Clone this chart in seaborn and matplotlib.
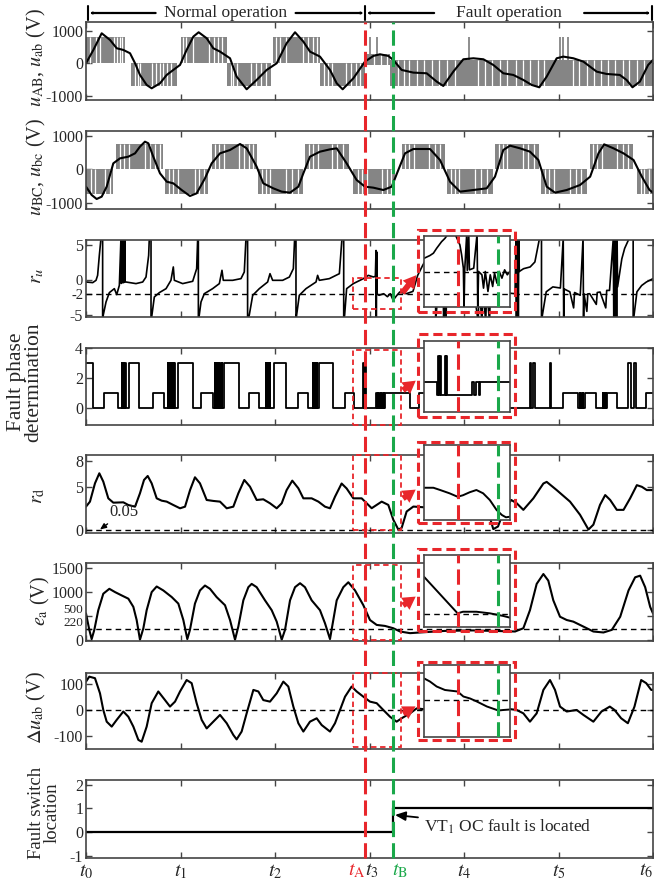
import numpy as np
import matplotlib
matplotlib.use("Agg")
import matplotlib.pyplot as plt
import seaborn as sns
from matplotlib.patches import Rectangle, FancyArrowPatch
from matplotlib.lines import Line2D

# ---------------- time markers (t_k grid units) ----------------
T_TICKS = [0, 1, 2, 3, 4, 5, 6]
T_LABELS = [r"$t_0$", r"$t_1$", r"$t_2$", r"$t_3$", r"$t_4$", r"$t_5$", r"$t_6$"]
T_A = 2.955          # fault occurs
T_B = 3.25           # fault located
ZOOM_T = (2.83, 3.33)   # window marked on the main traces
INSET_T = (2.70, 3.34)  # span shown in the magnified views

# ---------------- u_ab (filtered line voltage) ----------------
uab_t = [0.00, 0.078, 0.166, 0.254, 0.325, 0.395, 0.466, 0.519, 0.571, 0.642, 0.695, 0.783, 0.854, 0.924,
         0.995, 1.065, 1.136, 1.192, 1.277, 1.347, 1.418, 1.524, 1.594, 1.700, 1.806, 1.912, 2.018, 2.123,
         2.212, 2.300, 2.370, 2.476, 2.582, 2.653, 2.716, 2.829, 2.952, 3.041, 3.111, 3.199, 3.252, 3.340,
         3.464, 3.605, 3.711, 3.781, 3.887, 3.993, 4.099, 4.205, 4.310, 4.416, 4.522, 4.628, 4.716, 4.797,
         4.875, 4.981, 5.051, 5.157, 5.263, 5.404, 5.508, 5.649, 5.720, 5.783, 5.861, 5.949, 6.000]
uab_v = [0, 410, 923, 718, 462, 410, 308, 0, -359, -667, -770, -616, -359, -205,
         -51, 410, 821, 954, 770, 462, 359, 154, -410, -800, -513, -205, 0, 616,
         954, 667, 359, 205, -205, -616, -800, -462, 51, 226, 277, 226, 103, -205,
         -287, -308, -564, -698, -257, 123, 154, 123, -51, -308, -359, -513, -667, -739,
         -410, 154, 205, 154, 51, -257, -328, -359, -513, -739, -564, -51, 103]

# PWM voltage u_AB: switching bands
uAB_band_start = [0.00, 0.48, 1.00, 1.49, 1.98, 2.48, 2.95, 3.22]
uAB_band_end = [0.41, 0.96, 1.49, 1.96, 2.48, 2.95, 3.22, 6.00]
uAB_band_lo = [0, -700, 0, -700, 0, -700, -60, -700]
uAB_band_hi = [820, 0, 820, 0, 820, 0, 280, 90]
uAB_pulse_t = [3.00, 3.08, 4.05, 5.02, 5.05, 5.10]
uAB_pulse_top = 820
uAB_gap_t = [0.04, 0.11, 0.15, 0.30, 0.33, 0.36, 0.385, 0.52, 0.55, 0.57, 0.70, 0.74, 0.78, 0.82, 0.86, 0.90,
             1.03, 1.06, 1.13, 1.30, 1.35, 1.40, 1.44, 1.53, 1.56, 1.60, 1.75, 1.80, 1.85, 1.90, 2.01, 2.05,
             2.12, 2.30, 2.35, 2.40, 2.44, 2.52, 2.56, 2.60, 2.75, 2.80, 2.86, 2.90, 3.05, 3.12, 3.18, 3.30,
             3.36, 3.42, 3.50, 3.58, 3.66, 3.74, 3.82, 3.90, 4.15, 4.22, 4.30, 4.38, 4.45, 4.55, 4.62, 4.70,
             4.78, 4.85, 5.15, 5.22, 5.30, 5.38, 5.45, 5.52, 5.60, 5.68, 5.75, 5.83, 5.90]

# ---------------- u_bc ----------------
ubc_t = [0.00, 0.06, 0.113, 0.166, 0.219, 0.289, 0.360, 0.448, 0.519, 0.571, 0.624, 0.660, 0.712, 0.783,
         0.854, 0.924, 1.012, 1.100, 1.171, 1.259, 1.330, 1.418, 1.524, 1.630, 1.700, 1.806, 1.876, 1.982,
         2.071, 2.159, 2.247, 2.300, 2.370, 2.476, 2.582, 2.653, 2.758, 2.864, 2.952, 3.041, 3.146, 3.235,
         3.305, 3.376, 3.464, 3.640, 3.746, 3.852, 3.958, 4.099, 4.240, 4.328, 4.416, 4.487, 4.593, 4.698,
         4.787, 4.875, 4.963, 5.087, 5.228, 5.335, 5.423, 5.483, 5.582, 5.688, 5.794, 5.882, 5.963, 6.000]
ubc_v = [-520, -770, -890, -820, -520, 180, 330, 380, 480, 680, 830, 780, 380, -120,
         -370, -420, -620, -800, -720, -270, 180, 480, 580, 760, 630, 80, -420, -570,
         -670, -700, -520, -120, 380, 530, 600, 630, 180, -320, -520, -550, -620, -520,
         -20, 480, 610, 610, 280, -370, -670, -620, -570, -220, 580, 710, 630, 530,
         280, -520, -700, -620, -470, -220, 480, 750, 630, 480, 280, -220, -620, -700]

uBC_band_start = [0.00, 0.32, 0.84, 1.33, 1.82, 2.32, 2.83, 3.34, 3.82, 4.33, 4.82, 5.33, 5.83]
uBC_band_end = [0.29, 0.82, 1.29, 1.81, 2.30, 2.78, 3.27, 3.80, 4.31, 4.79, 5.30, 5.79, 6.00]
uBC_band_level = [-750, 750, -750, 750, -750, 750, -750, 750, -750, 750, -750, 750, -750]
uBC_gap_t = [0.05, 0.10, 0.20, 0.25, 0.36, 0.40, 0.45, 0.62, 0.68, 0.73, 0.78, 0.88, 0.92, 0.97, 1.15, 1.20,
             1.25, 1.37, 1.41, 1.46, 1.62, 1.67, 1.72, 1.77, 1.86, 1.90, 1.95, 2.12, 2.18, 2.24, 2.36, 2.40,
             2.45, 2.60, 2.66, 2.72, 2.88, 2.92, 2.97, 3.13, 3.18, 3.23, 3.38, 3.42, 3.47, 3.63, 3.69, 3.75,
             3.86, 3.90, 3.95, 4.12, 4.18, 4.24, 4.37, 4.41, 4.46, 4.62, 4.68, 4.74, 4.86, 4.90, 4.95, 5.12,
             5.18, 5.24, 5.37, 5.41, 5.46, 5.62, 5.68, 5.74, 5.87, 5.91, 5.96]

# ---------------- r_u ----------------
ru_t = [0.000, 0.071, 0.106, 0.123, 0.141, 0.159, 0.176, 0.176,
        0.183, 0.212, 0.247, 0.300, 0.325, 0.353,
        0.370, 0.374, 0.378, 0.382, 0.386, 0.390, 0.394, 0.398, 0.402, 0.406, 0.410, 0.414,
        0.423, 0.529, 0.600, 0.635, 0.663, 0.670, 0.688, 0.688,
        0.698, 0.723, 0.776, 0.847, 0.899, 0.924, 0.935, 1.023, 1.129, 1.171, 1.182, 1.189, 1.189,
        1.199, 1.217, 1.252, 1.340, 1.411, 1.439, 1.453, 1.552, 1.640, 1.675, 1.693, 1.710, 1.710,
        1.728, 1.764, 1.834, 1.922, 1.947, 1.975, 2.081, 2.152, 2.194, 2.208, 2.222, 2.222,
        2.229, 2.257, 2.328, 2.434, 2.451, 2.469, 2.575, 2.681, 2.709, 2.727, 2.727,
        2.737, 2.758, 2.829, 2.935, 2.988, 3.041, 3.062, 3.069, 3.072, 3.076, 3.080,
        3.100, 3.150, 3.190, 3.220, 3.250, 3.290, 3.320, 3.390, 3.460, 3.510, 3.560, 3.620, 3.660, 3.700, 3.700,
        3.720, 3.780, 3.785, 3.790, 3.810, 3.815, 3.950, 4.100, 4.150, 4.160, 4.190, 4.200, 4.230, 4.240,
        4.270, 4.280, 4.400, 4.540,
        4.550, 4.555, 4.560, 4.565, 4.570, 4.575, 4.580, 4.585,
        4.630, 4.700, 4.750, 4.800, 4.820, 4.820, 4.830, 4.870, 4.940, 5.020,
        5.050, 5.055, 5.060, 5.120, 5.160, 5.170, 5.230, 5.260, 5.265, 5.270, 5.300, 5.310, 5.330, 5.400,
        5.410, 5.440, 5.500, 5.510, 5.540,
        5.580, 5.585, 5.590, 5.595, 5.600, 5.605, 5.610, 5.615, 5.620, 5.625,
        5.670, 5.700, 5.750, 5.790, 5.790, 5.800, 5.830, 5.880, 5.930, 6.000]
ru_v = [-0.30, -0.39, -0.06, 0.65, 3.5, 6, 6, -6,
        -5.0, -3.15, -1.82, -1.25, -2.1, -0.77,
        6, -0.5, 6, -0.4, 6, -0.3, 6, -0.4, 6, -0.3, 6, -0.3,
        -0.30, -0.53, -0.30, 0.41, 3.5, 6, 6, -6,
        -5.0, -2.44, -1.82, -1.25, -0.06, 1.85, -0.06, -0.53, -0.2, 1.6, 6, 6, -6,
        -5.0, -3.15, -1.97, -1.25, -0.53, 1.37, -0.06, -0.06, 0.18, 1.13, 6, 6, -6,
        -5.0, -2.2, -1.25, -0.3, 0.89, -0.06, -0.06, 0.41, 1.6, 6, 6, -6,
        -5.0, -2.2, -1.25, -0.3, 0.65, -0.06, 0.18, 0.89, 6, 6, -6,
        -5.0, -1.25, -0.53, 0.18, 0.65, 0.42, 0.5, 4.2, -5.3, 4.0, -2.0,
        -2.2, -1.97, -2.4, -1.97, -2.9, -2.2, -1.73, -1.97, -1.64, 0.65, 2.0, 3.5, 6, 6, -6,
        -2.5, -2.0, -6, -2.0, -6, -2.0, -1.5, -1.0, -6, -1.0, -6, -1.2, -6, -1.2,
        -6, -1.5, -1.8, -1.97,
        6, -6, 6, -6, 6, -6, 6, 1.2,
        1.6, 1.85, 2.56, 6, 6, -6, -5.0, -1.7, -1.0, -1.16,
        6, -6, -1.3, -1.7, -4.0, -1.8, -2.2, 6, -6, -2.0, -4.5, -2.0, -1.97, -3.5,
        -1.8, -1.73, -4.0, -1.5, -1.5,
        6, -6, 6, -6, 6, -6, 6, -6, 6, -1.0,
        3.0, 4.5, 6, 6, -6, -5.0, -1.7, -0.8, -0.3, 0.18]
RU_THRESHOLD = -2

# ---------------- fault phase determination (step signal) ----------------
fp_t = [0.000, 0.078, 0.194, 0.335, 0.380, 0.386, 0.400, 0.406, 0.415, 0.421, 0.460, 0.564, 0.705, 0.830,
        0.865, 0.869, 0.875, 0.879, 0.885, 0.889, 0.895, 0.899, 0.905, 0.909, 0.915, 0.919, 0.925, 0.929,
        0.935, 0.939, 0.970, 1.130, 1.220, 1.340, 1.365, 1.369, 1.375, 1.379, 1.385, 1.389, 1.395, 1.399,
        1.405, 1.409, 1.420, 1.424, 1.435, 1.439, 1.465, 1.620, 1.730, 1.830, 1.905, 1.910, 1.925, 1.930,
        1.945, 1.950, 1.990, 2.120, 2.240, 2.350, 2.400, 2.405, 2.420, 2.425, 2.440, 2.445, 2.470, 2.610,
        2.740, 2.840, 2.935, 2.945, 2.952, 2.965, 3.070, 3.078, 3.086, 3.094, 3.102, 3.110, 3.118, 3.126,
        3.134, 3.142, 3.150, 3.158, 3.166, 3.430, 3.520, 3.600, 4.540, 4.700, 4.712, 4.735, 4.747, 4.910,
        4.925, 5.050, 5.210, 5.225, 5.232, 5.240, 5.247, 5.255, 5.262, 5.280, 5.400, 5.470, 5.475, 5.480,
        5.485, 5.490, 5.495, 5.500, 5.505, 5.510, 5.620, 5.740, 5.770, 5.800, 5.815, 5.930, 6.000]
fp_v = [3, 0, 1, 0, 3, 0, 3, 0, 3, 0, 3, 0, 1, 0,
        3, 0, 3, 0, 3, 0, 3, 0, 3, 0, 3, 0, 3, 0,
        3, 0, 3, 0, 1, 0, 3, 0, 3, 0, 3, 0, 3, 0,
        3, 0, 3, 0, 3, 0, 3, 0, 1, 0, 3, 0, 3, 0,
        3, 0, 3, 0, 1, 0, 3, 0, 3, 0, 3, 0, 3, 0,
        1, 0, 3, 0, 3, 0, 1, 0, 1, 0, 1, 0, 1, 0,
        1, 0, 1, 0, 1, 0, 1, 0, 0, 3, 0, 3, 0, 3,
        0, 1, 0, 1, 0, 1, 0, 1, 0, 1, 0, 1, 0, 1,
        0, 1, 0, 1, 0, 1, 0, 3, 0, 3, 0, 1, 1]

# ---------------- r_d ----------------
rd_t = [0.000, 0.042, 0.095, 0.141, 0.183, 0.236, 0.289, 0.395, 0.448, 0.519,
        0.571, 0.614, 0.653, 0.695, 0.748, 0.801, 0.854, 0.924, 0.995, 1.048,
        1.101, 1.153, 1.206, 1.277, 1.347, 1.418, 1.489, 1.559, 1.612, 1.675,
        1.735, 1.806, 1.876, 1.947, 2.018, 2.071, 2.123, 2.183, 2.247, 2.300,
        2.388, 2.459, 2.529, 2.582, 2.635, 2.705, 2.758, 2.829, 2.917, 3.023,
        3.129, 3.199, 3.252, 3.305, 3.340, 3.393, 3.464, 3.600, 3.800, 4.000,
        4.150, 4.270, 4.310, 4.360, 4.420, 4.500, 4.558, 4.628, 4.734, 4.840,
        4.875, 4.981, 5.122, 5.228, 5.317, 5.369, 5.439, 5.494, 5.547, 5.617,
        5.688, 5.758, 5.829, 5.882, 5.935, 6.000]
rd_v = [2.69, 3.27, 5.38, 6.54, 5.58, 3.65, 3.15, 3.19, 2.88, 2.69,
        4.23, 5.77, 6.23, 5.38, 3.65, 3.38, 3.27, 2.88, 2.50, 2.69,
        4.60, 6.08, 5.38, 3.46, 3.35, 3.27, 2.50, 2.69, 4.23, 5.77,
        5.00, 3.46, 3.54, 3.08, 2.50, 3.08, 4.60, 5.69, 4.81, 3.65,
        3.65, 3.27, 2.69, 2.50, 3.84, 5.36, 4.79, 3.65, 3.65, 2.51,
        3.27, 2.89, 1.18, 0.05, 0.23, 2.13, 2.70, 2.60, 2.40, 2.80,
        2.20, 1.56, 0.10, 0.40, 2.20, 3.46, 3.08, 2.32, 3.65, 5.36,
        5.55, 4.60, 3.27, 1.75, 0.05, 0.61, 2.89, 4.03, 3.46, 2.32,
        2.32, 3.65, 5.17, 4.98, 4.60, 4.60]
RD_THRESHOLD = 0.05

# ---------------- e_a ----------------
ea_t = [0.000, 0.035, 0.060, 0.088, 0.130, 0.183, 0.247, 0.307, 0.377, 0.448,
        0.501, 0.536, 0.571, 0.607, 0.642, 0.695, 0.748, 0.818, 0.907, 0.977,
        1.030, 1.072, 1.100, 1.153, 1.206, 1.259, 1.312, 1.382, 1.471, 1.524,
        1.577, 1.612, 1.665, 1.718, 1.753, 1.806, 1.894, 1.965, 2.018, 2.071,
        2.106, 2.159, 2.212, 2.265, 2.317, 2.388, 2.476, 2.529, 2.582, 2.653,
        2.723, 2.776, 2.847, 2.935, 3.005, 3.076, 3.164, 3.252, 3.323, 3.429,
        3.534, 3.800, 4.100, 4.400, 4.540, 4.628, 4.698, 4.769, 4.840, 4.892,
        4.945, 5.016, 5.087, 5.157, 5.263, 5.369, 5.476, 5.564, 5.653, 5.741,
        5.811, 5.864, 5.917, 5.970, 6.000]
ea_v = [552, 211, 20, 211, 620, 962, 1064, 996, 927, 859,
        689, 416, 7, 245, 620, 996, 1112, 1030, 893, 757,
        416, 20, 211, 757, 1030, 1132, 1064, 893, 723, 416,
        7, 280, 825, 1098, 1166, 1098, 825, 620, 382, 7,
        211, 825, 1098, 1180, 1098, 825, 620, 348, 20, 825,
        1098, 1200, 1030, 723, 416, 314, 293, 245, 177, 143,
        157, 190, 200, 185, 177, 245, 620, 1166, 1371, 1234,
        825, 484, 416, 382, 280, 177, 157, 211, 484, 1030,
        1303, 1337, 1098, 689, 552]
EA_THRESHOLD = 220

# ---------------- delta u_ab ----------------
du_t = [0.000, 0.035, 0.095, 0.148, 0.183, 0.219, 0.272, 0.325, 0.395, 0.448,
        0.501, 0.554, 0.589, 0.642, 0.695, 0.765, 0.836, 0.889, 0.942, 0.995,
        1.065, 1.118, 1.171, 1.224, 1.277, 1.347, 1.418, 1.489, 1.559, 1.594,
        1.647, 1.700, 1.771, 1.824, 1.876, 1.947, 2.018, 2.088, 2.141, 2.194,
        2.247, 2.300, 2.370, 2.441, 2.494, 2.582, 2.635, 2.688, 2.741, 2.811,
        2.864, 2.935, 3.005, 3.076, 3.146, 3.217, 3.287, 3.340, 3.429, 3.499,
        3.650, 3.850, 4.050, 4.250, 4.450, 4.557, 4.628, 4.698, 4.769, 4.840,
        4.910, 4.963, 5.016, 5.087, 5.192, 5.263, 5.369, 5.455, 5.543, 5.593,
        5.663, 5.734, 5.804, 5.875, 5.928, 5.981, 6.000]
du_v = [109, 128, 122, 64, 0, -45, -64, -38, -6, -26,
        -64, -115, -122, -64, 26, 71, 38, 13, 32, 71,
        115, 103, 26, -38, -71, -45, -19, -51, -96, -113,
        -83, -13, 77, 71, 38, 32, 64, 109, 90, 13,
        -51, -83, -45, -32, -58, -83, -51, 0, 51, 90,
        71, 51, 32, 26, 0, -26, -45, -32, -13, 6,
        0, -10, 5, -5, 5, 0, -13, -45, -13, 77,
        115, 77, 13, -6, 0, -19, -45, -6, 13, 0,
        -32, -51, 13, 115, 103, 77, 77]

# ---------------- fault switch location ----------------
loc_t = [0.0, T_B, 6.0]
loc_v = [0, 1, 1]

# ---------------- magnified views ----------------
ins_ru_t = [2.702, 2.744, 2.770, 2.794, 2.831, 2.856, 2.880, 2.900, 2.930, 2.967,
            2.980, 2.993, 2.998, 3.003, 3.018, 3.022, 3.033, 3.038, 3.070, 3.095,
            3.100, 3.106, 3.131, 3.143, 3.156, 3.176, 3.193, 3.211, 3.225, 3.243,
            3.260, 3.280, 3.300, 3.320, 3.338]
ins_ru_v = [1.20, 1.44, 1.65, 2.09, 2.69, 2.99, 3.4, 3.3, 3.4, 2.40,
            1.50, 0.30, -3.4, 0.15, 3.4, 0.1, 3.4, 0.15, 0.30, 3.4,
            -3.4, 0.0, -0.30, -1.50, 0.0, -1.80, -0.30, -1.35, -0.15, -1.05,
            0.0, -0.60, 0.15, -0.30, 0.0]
ins_fp_t = [2.700, 2.794, 2.806, 2.812, 2.818, 2.823, 2.855, 2.861, 2.867, 2.873, 3.054, 3.071, 3.090, 3.107, 3.115, 3.340]
ins_fp_v = [1, 0, 3, 0, 3, 0, 3, 0, 3, 0, 1, 0, 1, 0, 1, 1]
ins_rd_t = [2.700, 2.770, 2.820, 2.890, 2.950, 2.990, 3.040, 3.090, 3.140, 3.190, 3.240, 3.280, 3.310, 3.340]
ins_rd_v = [2.15, 2.15, 2.00, 1.78, 1.55, 1.65, 1.85, 2.00, 1.78, 1.33, 0.67, 0.33, 0.18, 0.22]
ins_ea_t = [2.700, 2.950, 2.990, 3.090, 3.190, 3.290, 3.340]
ins_ea_v = [996, 235, 268, 268, 235, 180, 144]
ins_du_t = [2.702, 2.744, 2.794, 2.856, 2.950, 2.993, 3.043, 3.093, 3.168, 3.253, 3.290, 3.340]
ins_du_v = [43, 37, 27, 20, 17, 7, 3, -3, -13, -21, -20, -19]

# ---------------- style ----------------
sns.set_theme(style="ticks")
plt.rcParams["font.family"] = ["Liberation Serif", "DejaVu Serif"]
plt.rcParams["mathtext.fontset"] = "stix"
plt.rcParams["axes.unicode_minus"] = False

RED = "#e8262b"
GREEN = "#1aa84a"
GRAY = "#858585"
FRAME = "#444444"
TICK_FS = 11.5
LABEL_FS = 14.5

W, H = 654, 884
fig = plt.figure(figsize=(W / 100, H / 100), dpi=100)


def box(x0, y0, x1, y1):
    """Pixel box (top-left origin) -> figure fraction rect."""
    return [x0 / W, 1 - y1 / H, (x1 - x0) / W, (y1 - y0) / H]


ROWS = [(22, 100), (131, 209), (240, 317), (348, 425), (455, 533), (563, 641), (673, 749), (780, 858)]
axes = [fig.add_axes(box(86, r0, 653, r1)) for r0, r1 in ROWS]
ax_ab, ax_bc, ax_ru, ax_fp, ax_rd, ax_ea, ax_du, ax_loc = axes


def curve(ax, t, v, lw=1.4, **kw):
    sns.lineplot(x=np.asarray(t, float), y=np.asarray(v, float), ax=ax, color="black",
                 linewidth=lw, sort=False, estimator=None, legend=False, **kw)


def frame(ax, ylim, yticks, small=(), small_fs=10, raised=()):
    ax.set_xlim(0, 6)
    ax.set_ylim(*ylim)
    ax.set_xticks(T_TICKS)
    ax.set_xticklabels([])
    ax.set_yticks(yticks)
    ax.set_yticklabels([str(v) for v in yticks])
    ax.tick_params(direction="in", top=True, right=True, length=4, width=1.0, color=FRAME,
                   labelsize=TICK_FS, pad=2)
    for lab, v in zip(ax.get_yticklabels(), yticks):
        if v in small:
            lab.set_fontsize(small_fs)
        if v in raised:
            lab.set_verticalalignment("bottom")
    for s in ax.spines.values():
        s.set_color(FRAME)
        s.set_linewidth(1.2)
    ax.set_xlabel("")
    ax.set_ylabel("")


def hdash(ax, y, lw=1.0):
    ax.axhline(y, color="black", lw=lw, ls=(0, (4, 3)), zorder=3)


# ---- u_AB / u_ab ----
for s, e, lo, hi in zip(uAB_band_start, uAB_band_end, uAB_band_lo, uAB_band_hi):
    ax_ab.fill_between([s, e], lo, hi, color=GRAY, lw=0, zorder=1)
ax_ab.vlines(uAB_pulse_t, 0, uAB_pulse_top, color=GRAY, lw=1.3, zorder=1)
idx = np.searchsorted(uAB_band_start, uAB_gap_t, side="right") - 1
ax_ab.vlines(uAB_gap_t, np.asarray(uAB_band_lo)[idx], np.asarray(uAB_band_hi)[idx],
             color="white", lw=0.9, zorder=1.5)
curve(ax_ab, uab_t, uab_v, lw=1.5)
frame(ax_ab, (-1130, 1270), [-1000, 0, 1000])

# ---- u_BC / u_bc ----
lvl = np.asarray(uBC_band_level)
for s, e, l in zip(uBC_band_start, uBC_band_end, lvl):
    ax_bc.fill_between([s, e], min(0, l), max(0, l), color=GRAY, lw=0, zorder=1)
idx = np.searchsorted(uBC_band_start, uBC_gap_t, side="right") - 1
ax_bc.vlines(uBC_gap_t, np.minimum(0, lvl[idx]), np.maximum(0, lvl[idx]), color="white", lw=0.9, zorder=1.5)
curve(ax_bc, ubc_t, ubc_v, lw=1.5)
frame(ax_bc, (-1190, 1150), [-1000, 0, 1000])

# ---- r_u ----
hdash(ax_ru, RU_THRESHOLD)
curve(ax_ru, ru_t, ru_v, lw=1.2)
frame(ax_ru, (-5.3, 5.7), [-5, -2, 0, 5], small=(-2, 0), small_fs=10.5)

# ---- fault phase ----
curve(ax_fp, fp_t, fp_v, lw=1.3, drawstyle="steps-post")
frame(ax_fp, (-1.12, 3.95), [0, 2, 4])

# ---- r_d ----
hdash(ax_rd, RD_THRESHOLD)
curve(ax_rd, rd_t, rd_v, lw=1.5)
frame(ax_rd, (-0.35, 8.65), [0, 5, 8])
ax_rd.annotate(f"{RD_THRESHOLD:.2f}", xy=(0.148, RD_THRESHOLD), xytext=(0.40, 2.1), ha="center", va="center",
               fontsize=12, arrowprops=dict(arrowstyle="-|>,head_length=0.3,head_width=0.13", color="black",
                                            lw=1.0, shrinkA=1, shrinkB=0))

# ---- e_a ----
hdash(ax_ea, EA_THRESHOLD)
curve(ax_ea, ea_t, ea_v, lw=1.5)
frame(ax_ea, (-20, 1600), [0, 220, 500, 1000, 1500], small=(220, 500), small_fs=9.5, raised=(220, 500))

# ---- delta u_ab ----
hdash(ax_du, 0)
curve(ax_du, du_t, du_v, lw=1.5)
frame(ax_du, (-150, 142), [-100, 0, 100])

# ---- fault switch location ----
curve(ax_loc, loc_t, loc_v, lw=1.6, drawstyle="steps-post")
frame(ax_loc, (-1.1, 2.2), [-1, 0, 1, 2])
ax_loc.set_xticklabels(["" if k in (3, 6) else lab for k, lab in zip(T_TICKS, T_LABELS)])
ax_loc.tick_params(axis="x", labelsize=14.5, pad=3)
xt = ax_loc.get_xaxis_transform()
ax_loc.text(3.02, -0.045, T_LABELS[3], transform=xt, ha="center", va="top", fontsize=14.5)
ax_loc.text(6.0, -0.045, T_LABELS[6], transform=xt, ha="right", va="top", fontsize=14.5)
ax_loc.text(T_A, -0.045, r"$t_{\mathrm{A}}$", transform=xt, ha="right", va="top", fontsize=14.5, color=RED)
ax_loc.text(T_B - 0.01, -0.045, r"$t_{\mathrm{B}}$", transform=xt, ha="left", va="top", fontsize=14.5, color=GREEN)
ax_loc.annotate("VT$_1$ OC fault is located", xy=(T_B + 0.02, 0.72), xytext=(3.577, 0.22),
                ha="left", va="center", fontsize=12.5,
                arrowprops=dict(arrowstyle="-|>,head_length=0.5,head_width=0.22", color="black", lw=1.3,
                                shrinkA=2, shrinkB=0))

# ---------------- magnified views ----------------
INSETS = [
    # main axis, zoom y-window, inset box (px), outer box (px), arrow tail y, arrow head y
    (ax_ru, (-4.2, 0.2), (236, 307), (230, 312), 295, 273),
    (ax_fp, (-1.12, 3.9), (341, 412), (334, 417), 392, 379),
    (ax_rd, (0.0, 8.6), (445, 520), (442, 523), 500, 488),
    (ax_ea, (0.0, 1555), (555, 627), (549, 631), 607, 595),
    (ax_du, (-142, 142), (665, 737), (662, 740), 715, 705),
]
inset_axes = []
for ax, (y0, y1), (it, ib), (ot, ob), ya, yb in INSETS:
    ax.add_patch(Rectangle((ZOOM_T[0], y0), ZOOM_T[1] - ZOOM_T[0], y1 - y0, fill=False, edgecolor=RED,
                           lw=1.3, ls=(0, (3, 2)), clip_on=False, zorder=4))
    axi = fig.add_axes(box(424, it, 510, ib), zorder=6)
    axi.set_facecolor("white")
    axi.set_xlim(*INSET_T)
    axi.set_xticks([])
    axi.set_yticks([])
    for s in axi.spines.values():
        s.set_color(FRAME)
        s.set_linewidth(1.2)
    inset_axes.append(axi)
    fig.add_artist(Rectangle((418 / W, 1 - ob / H), 97 / W, (ob - ot) / H, transform=fig.transFigure,
                             fill=False, edgecolor=RED, lw=2.2, ls=(0, (3, 1.6)), zorder=7))
    x_tail = fig.transFigure.inverted().transform(ax.transData.transform((ZOOM_T[1], 0)))[0]
    fig.add_artist(FancyArrowPatch((x_tail, 1 - ya / H), (418 / W, 1 - yb / H), transform=fig.transFigure,
                                   arrowstyle="simple,head_length=1.3,head_width=1.5,tail_width=0.6",
                                   mutation_scale=7, color=RED, lw=0, zorder=7))

ai_ru, ai_fp, ai_rd, ai_ea, ai_du = inset_axes
hdash(ai_ru, 0)
hdash(ai_ru, RU_THRESHOLD)
curve(ai_ru, ins_ru_t, ins_ru_v, lw=1.2)
ai_ru.set_ylim(-3.2, 3.2)
curve(ai_fp, ins_fp_t, ins_fp_v, lw=1.3, drawstyle="steps-post")
ai_fp.set_ylim(-1.31, 4.15)
curve(ai_rd, ins_rd_t, ins_rd_v, lw=1.4)
ai_rd.set_ylim(0, 5)
hdash(ai_ea, EA_THRESHOLD)
curve(ai_ea, ins_ea_t, ins_ea_v, lw=1.4)
ai_ea.set_ylim(-50, 1450)
hdash(ai_du, 0)
curve(ai_du, ins_du_t, ins_du_v, lw=1.4)
ai_du.set_ylim(-74, 70)
for axi in inset_axes:
    axi.set_xlim(*INSET_T)
    axi.set_xlabel("")
    axi.set_ylabel("")
    axi.axvline(T_A, color=RED, lw=2.2, ls=(0, (5, 2)), zorder=5)
    axi.axvline(T_B, color=GREEN, lw=2.2, ls=(0, (5, 2)), zorder=5)

# ---------------- fault instants across all traces ----------------
to_fig = fig.transFigure.inverted()


def fig_x(t):
    return to_fig.transform(ax_ab.transData.transform((t, 0)))[0]


y_top = 1 - ROWS[0][0] / H
y_bot = 1 - ROWS[-1][1] / H
for t, c in ((T_A, RED), (T_B, GREEN)):
    fig.add_artist(Line2D([fig_x(t), fig_x(t)], [y_bot, y_top], transform=fig.transFigure, color=c,
                          lw=2.2, ls=(0, (5, 2)), zorder=5))

# ---------------- operating-mode header ----------------
yh = 1 - 13 / H
x0, xa, x6 = fig_x(0), fig_x(T_A), fig_x(6)
for xb in (x0 + 2 / W, xa, x6 - 1 / W):
    fig.add_artist(Line2D([xb, xb], [1 - 20 / H, 1 - 6 / H], transform=fig.transFigure, color="black", lw=1.5))
arrow_kw = dict(arrowstyle="->,head_length=0.7,head_width=0.28", color="black", lw=1.6, shrinkA=0, shrinkB=0)
cn = (x0 + xa) / 2
cf = (xa + x6) / 2
fig.text(cn, yh, "Normal operation", ha="center", va="center", fontsize=12.5)
fig.text(cf, yh, "Fault operation", ha="center", va="center", fontsize=12.5)
for tail, head in ((cn - 70 / W, x0 + 3 / W), (cn + 70 / W, xa - 1 / W),
                   (cf - 75 / W, xa + 1 / W), (cf + 75 / W, x6 - 2 / W)):
    fig.add_artist(FancyArrowPatch((tail, yh), (head, yh), transform=fig.transFigure, **arrow_kw))

# ---------------- axis titles ----------------
YLABELS = [
    (r"$u_{\mathrm{AB}}$, $u_{\mathrm{ab}}$ (V)", 36, 58, LABEL_FS),
    (r"$u_{\mathrm{BC}}$, $u_{\mathrm{bc}}$ (V)", 36, 167, LABEL_FS),
    (r"$r_u$", 37, 276, LABEL_FS),
    ("Fault phase\ndetermination", 25, 382, 15.5),
    (r"$r_{\mathrm{d}}$", 38, 496, LABEL_FS),
    (r"$e_{\mathrm{a}}$ (V)", 40, 601, LABEL_FS),
    (r"$\Delta u_{\mathrm{ab}}$ (V)", 36, 708, LABEL_FS),
    ("Fault switch\nlocation", 44, 813, 13.5),
]
for txt, px, py, fs in YLABELS:
    fig.text(px / W, 1 - py / H, txt, rotation=90, ha="center", va="center", fontsize=fs,
             linespacing=0.9, multialignment="center")

fig.savefig("out.png", dpi=100)
